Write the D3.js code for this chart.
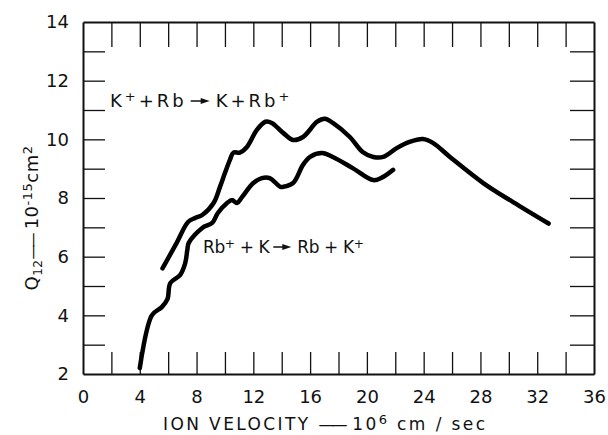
<!DOCTYPE html>
<html>
  <head>
    <style type="text/css">
      body { margin: 0; background: #fff; }
      text {
        font-family: "DejaVu Sans", "Liberation Sans", Arial, sans-serif;
        fill: #111;
      }
      .tick line, .domain { stroke: #111; }
      .curve { fill: none; stroke: #000; stroke-width: 4.5; stroke-linecap: round; stroke-linejoin: round; }
    </style>
  </head>
  <body>
    <div id="canvas"></div>
    <script type="text/javascript" src="https://cdn.jsdelivr.net/npm/d3@7/dist/d3.min.js"></script>
    <script type="text/javascript">
      // K+ + Rb -> K + Rb+ (upper curve), velocity in 1e6 cm/sec, Q12 in 1e-15 cm2
      var kRbVel = [5.6, 6.6, 7.4, 7.9, 8.4, 9.2, 9.65, 10.0, 10.35, 10.6, 11.05, 11.55, 12.25, 12.85, 13.3,
                    14.1, 14.8, 15.5, 16.5, 17.05, 17.6, 18.8, 19.7, 20.45, 21.15, 22.1, 23.0, 23.95, 24.65,
                    25.85, 28.2, 30.3, 32.8];
      var kRbQ   = [5.6, 6.47, 7.18, 7.32, 7.42, 7.83, 8.38, 8.85, 9.3, 9.55, 9.55, 9.74, 10.32, 10.6, 10.56,
                    10.22, 9.98, 10.08, 10.6, 10.7, 10.56, 10.08, 9.57, 9.4, 9.4, 9.7, 9.91, 10.01, 9.88,
                    9.4, 8.51, 7.86, 7.13];
      // Rb+ + K -> Rb + K+ (lower curve)
      var rbKVel = [4.0, 4.85, 5.55, 5.95, 6.15, 6.85, 7.2, 7.35, 7.45, 8.4, 9.1, 9.5, 10.15, 10.5, 10.85, 11.2,
                    12.0, 12.6, 13.15, 13.9, 14.1, 14.8, 15.5, 16.0, 16.85, 17.6, 19.0, 20.45, 21.15, 21.85];
      var rbKQ   = [2.2, 4.0, 4.28, 4.55, 5.1, 5.38, 5.78, 6.23, 6.47, 6.98, 7.15, 7.49, 7.83, 7.93, 7.83, 8.03,
                    8.51, 8.68, 8.68, 8.38, 8.38, 8.51, 9.13, 9.4, 9.53, 9.4, 9.02, 8.61, 8.72, 8.96];

      var xMajor = [0, 4, 8, 12, 16, 20, 24, 28, 32, 36];
      var xMinor = [2, 4, 6, 8, 10, 12, 14, 16, 18, 20, 22, 24, 26, 28, 30, 32, 34];
      var yMajor = [2, 4, 6, 8, 10, 12, 14];
      var yMinor = [3, 4, 5, 6, 7, 8, 9, 10, 11, 12, 13];

      (function () {
        var W = 608, H = 435;
        var m = { left: 83, right: 594, top: 22, bottom: 374 };

        var svg = d3.select('#canvas').append('svg')
          .attr('width', W).attr('height', H);

        var x = d3.scaleLinear().domain([0, 36]).range([m.left, m.right]);
        var y = d3.scaleLinear().domain([2, 14]).range([m.bottom, m.top]);

        // inward ticks on all four sides
        svg.append('g').attr('transform', 'translate(0,' + m.bottom + ')')
          .call(d3.axisBottom(x).tickValues(xMinor).tickSize(-22).tickSizeOuter(0).tickFormat(''));
        svg.append('g').attr('transform', 'translate(0,' + m.top + ')')
          .call(d3.axisTop(x).tickValues(xMinor).tickSize(-25).tickSizeOuter(0).tickFormat(''));
        svg.append('g').attr('transform', 'translate(' + m.left + ',0)')
          .call(d3.axisLeft(y).tickValues(yMinor).tickSize(-22).tickSizeOuter(0).tickFormat(''));
        svg.append('g').attr('transform', 'translate(' + m.right + ',0)')
          .call(d3.axisRight(y).tickValues(yMinor).tickSize(-24).tickSizeOuter(0).tickFormat(''));
        svg.selectAll('.domain').attr('stroke-width', 2);
        svg.selectAll('.tick line').attr('stroke-width', 1.3);

        // tick labels
        var xl = svg.append('g').attr('transform', 'translate(0,' + m.bottom + ')')
          .call(d3.axisBottom(x).tickValues(xMajor).tickSize(0).tickPadding(16).tickFormat(d3.format('d')));
        var yl = svg.append('g').attr('transform', 'translate(' + m.left + ',0)')
          .call(d3.axisLeft(y).tickValues(yMajor).tickSize(0).tickPadding(14).tickFormat(d3.format('d')));
        [xl, yl].forEach(function (g) {
          g.select('.domain').remove();
          g.selectAll('text').attr('font-size', 18)
            .style('font-family', '"DejaVu Sans", "Liberation Sans", Arial, sans-serif').attr('fill', '#111');
        });

        // curves
        var line = d3.line()
          .x(function (d) { return x(d[0]); })
          .y(function (d) { return y(d[1]); })
          .curve(d3.curveCatmullRom.alpha(0.5));

        svg.append('path').attr('class', 'curve').attr('d', line(d3.zip(kRbVel, kRbQ)));
        svg.append('path').attr('class', 'curve').attr('d', line(d3.zip(rbKVel, rbKQ)));

        // reaction label: pieces drawn left to right with an arrow in the middle
        var reaction = function (x0, y0, size, spacing, arrowLen, lhs, rhs) {
          var g = svg.append('g').attr('font-size', size).attr('letter-spacing', spacing);
          var cx = x0;
          var addPart = function (parts) {
            var t = g.append('text').attr('x', cx).attr('y', y0);
            parts.forEach(function (p) {
              var s = t.append('tspan').text(p[0]);
              if (p[1]) s.attr('baseline-shift', '45%').attr('font-size', size * 0.72);
            });
            cx += t.node().getComputedTextLength();
          };
          addPart(lhs);
          cx += 4;
          g.append('line').attr('x1', cx).attr('x2', cx + arrowLen - 6).attr('y1', y0 - 6).attr('y2', y0 - 6)
            .attr('stroke', '#111').attr('stroke-width', 1.5);
          g.append('path')
            .attr('d', 'M' + (cx + arrowLen - 9) + ',' + (y0 - 9) + 'L' + (cx + arrowLen) + ',' + (y0 - 6) +
                       'L' + (cx + arrowLen - 9) + ',' + (y0 - 3) + 'Z')
            .attr('fill', '#111');
          cx += arrowLen + 6;
          addPart(rhs);
        };
        reaction(110, 107, 18, 3, 19, [['K'], ['+', 1], ['+Rb']], [['K+Rb'], ['+', 1]]);
        reaction(203, 253, 17, -0.4, 18, [['Rb'], ['+', 1], [' + K']], [['Rb + K'], ['+', 1]]);

        // axis titles
        var xt = svg.append('text').attr('x', 163).attr('y', 430).attr('font-size', 17).attr('letter-spacing', 2.4);
        xt.append('tspan').text('ION VELOCITY ').attr('letter-spacing', 2.4);
        xt.append('tspan').text('——').attr('letter-spacing', -3).attr('font-size', 16);
        xt.append('tspan').text('  10');
        xt.append('tspan').text('6').attr('baseline-shift', '45%').attr('font-size', 13);
        xt.append('tspan').text(' cm / sec').attr('baseline-shift', '0');

        var yt = svg.append('text').attr('transform', 'translate(38,218) rotate(-90)')
          .attr('text-anchor', 'middle').attr('font-size', 18).attr('letter-spacing', 0.5);
        yt.append('tspan').text('Q');
        yt.append('tspan').text('12').attr('baseline-shift', '-30%').attr('font-size', 12);
        yt.append('tspan').text('——').attr('letter-spacing', -3).attr('font-size', 15).attr('baseline-shift', '0');
        yt.append('tspan').text(' 10');
        yt.append('tspan').text('-15').attr('baseline-shift', '45%').attr('font-size', 13);
        yt.append('tspan').text('cm').attr('baseline-shift', '0');
        yt.append('tspan').text('2').attr('baseline-shift', '45%').attr('font-size', 13);
      })();
    </script>
  </body>
</html>
